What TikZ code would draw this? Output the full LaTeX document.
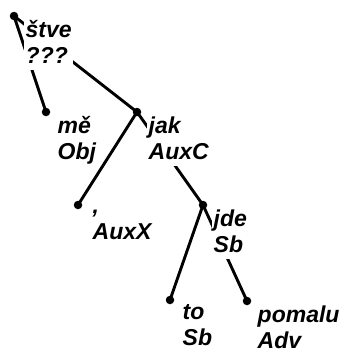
\documentclass[tikz,border=0pt]{standalone}
\usepackage{fontspec}
\setmainfont{Liberation Sans}
\usetikzlibrary{positioning}
\tikzset{
	tdot/.style={circle, fill=black, inner sep=0pt, minimum size=8.5pt},
	tlbl/.style={
		fill=white,
		align=left,
		inner sep=1.5pt,
		font=\fontsize{23}{26}\selectfont\bfseries\itshape,
		execute at begin node={\vphantom{Šj}}
	},
	tedge/.style={line width=2.9pt}
}
\begin{document}
\begin{tikzpicture}[x=1pt, y=-1pt]
	\useasboundingbox (0,0) rectangle (347,351);
	% dots
	\node[tdot] (stve) at (14,16) {};
	\node[tdot] (me) at (46,112) {};
	\node[tdot] (jak) at (137,112) {};
	\node[tdot] (comma) at (78,205) {};
	\node[tdot] (jde) at (203,205) {};
	\node[tdot] (to) at (170,300) {};
	\node[tdot] (pomalu) at (247,301) {};
	% edges
	\draw[tedge] (stve.center) -- (me.center);
	\draw[tedge] (stve.center) -- (jak.center);
	\draw[tedge] (jak.center) -- (comma.center);
	\draw[tedge] (jak.center) -- (jde.center);
	\draw[tedge] (jde.center) -- (to.center);
	\draw[tedge] (jde.center) -- (pomalu.center);
	% labels
	\node[tlbl, below right=3pt and 10pt of stve.center] (stve-l) {štve\\???};
	\node[tlbl, below right=3pt and 10pt of me.center] (me-l) {mě\\Obj};
	\node[tlbl, below right=3pt and 10pt of jak.center] (jak-l) {jak\\AuxC};
	\node[tlbl, below right=3pt and 13pt of comma.center] (comma-l) {,\\AuxX};
	\node[tlbl, below right=3pt and 9pt of jde.center] (jde-l) {jde\\Sb};
	\node[tlbl, below right=3pt and 11pt of to.center] (to-l) {to\\Sb};
	\node[tlbl, below right=3pt and 9pt of pomalu.center] (pomalu-l) {pomalu\\Adv};
\end{tikzpicture}
\end{document}
